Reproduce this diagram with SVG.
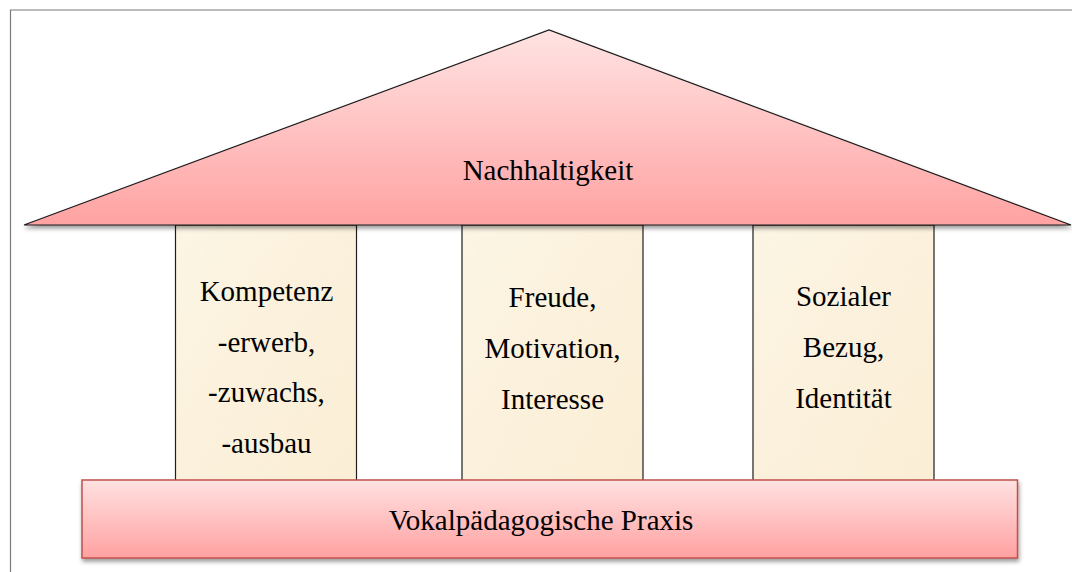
<svg xmlns="http://www.w3.org/2000/svg" width="1072" height="572" viewBox="0 0 1072 572">
  <defs>
    <linearGradient id="roofFill" x1="0" y1="30" x2="0" y2="225" gradientUnits="userSpaceOnUse">
      <stop offset="0" stop-color="#ffe3e3"/>
      <stop offset="1" stop-color="#ffa2a2"/>
    </linearGradient>
    <linearGradient id="baseFill" x1="0" y1="0" x2="0" y2="1">
      <stop offset="0" stop-color="#ffe1e1"/>
      <stop offset="1" stop-color="#ffa1a1"/>
    </linearGradient>
    <linearGradient id="parchment" x1="0" y1="0" x2="1" y2="1">
      <stop offset="0" stop-color="#fdf6e6"/>
      <stop offset="0.5" stop-color="#fcf1dc"/>
      <stop offset="1" stop-color="#fbeed5"/>
    </linearGradient>
    <filter id="shadow" x="-5%" y="-5%" width="110%" height="120%">
      <feGaussianBlur in="SourceAlpha" stdDeviation="2"/>
      <feOffset dx="1" dy="3" result="off"/>
      <feComponentTransfer><feFuncA type="linear" slope="0.4"/></feComponentTransfer>
      <feMerge><feMergeNode/><feMergeNode in="SourceGraphic"/></feMerge>
    </filter>
    <filter id="mottle" x="0" y="0" width="100%" height="100%">
      <feTurbulence type="fractalNoise" baseFrequency="0.03" numOctaves="3" seed="7" result="noise"/>
      <feColorMatrix in="noise" type="matrix" values="0 0 0 0 0.95  0 0 0 0 0.88  0 0 0 0 0.72  0 0 0 0.25 0" result="tint"/>
      <feComposite in="tint" in2="SourceGraphic" operator="in" result="spots"/>
      <feMerge><feMergeNode in="SourceGraphic"/><feMergeNode in="spots"/></feMerge>
    </filter>
  </defs>
  <style>
    .txt { font-family: 'Liberation Serif', 'Times New Roman', serif; font-size: 29px; fill: #000; text-anchor: middle; }
    .pillar { fill: url(#parchment); filter: url(#mottle); }
    .pillar-edge { fill: none; stroke: #1e1e1e; stroke-width: 1.2; }
  </style>

  <rect width="1072" height="572" fill="#ffffff"/>
  <!-- outer frame -->
  <path d="M10.5,572 V10 H1072" fill="none" stroke="#7a7a7a" stroke-width="1.2"/>

  <g id="pillar-kompetenz">
    <rect class="pillar" x="175.5" y="225" width="181" height="258"/>
    <rect class="pillar-edge" x="175.5" y="225" width="181" height="258"/>
    <text class="txt" x="266.5" y="301">Kompetenz</text>
    <text class="txt" x="266.5" y="351.5">-erwerb,</text>
    <text class="txt" x="266.5" y="402">-zuwachs,</text>
    <text class="txt" x="266.5" y="452.5">-ausbau</text>
  </g>

  <g id="pillar-freude">
    <rect class="pillar" x="462" y="225" width="181" height="258"/>
    <rect class="pillar-edge" x="462" y="225" width="181" height="258"/>
    <text class="txt" x="552.5" y="307">Freude,</text>
    <text class="txt" x="552.5" y="358">Motivation,</text>
    <text class="txt" x="552.5" y="409">Interesse</text>
  </g>

  <g id="pillar-sozial">
    <rect class="pillar" x="753" y="225" width="181" height="258"/>
    <rect class="pillar-edge" x="753" y="225" width="181" height="258"/>
    <text class="txt" x="843.5" y="306">Sozialer</text>
    <text class="txt" x="843.5" y="357">Bezug,</text>
    <text class="txt" x="843.5" y="407.5">Identität</text>
  </g>

  <g id="roof">
    <polygon points="24,225 549,30 1071,225" fill="url(#roofFill)" stroke="#1a1a1a" stroke-width="1.2" stroke-linejoin="miter" filter="url(#shadow)"/>
    <text class="txt" x="548" y="179.5">Nachhaltigkeit</text>
  </g>

  <g id="base">
    <rect x="82" y="480" width="935.5" height="78" fill="url(#baseFill)" stroke="#c0504d" stroke-width="1.5" filter="url(#shadow)"/>
    <text class="txt" x="541" y="529.5">Vokalpädagogische Praxis</text>
  </g>

  <g id="connectors"/>
</svg>
